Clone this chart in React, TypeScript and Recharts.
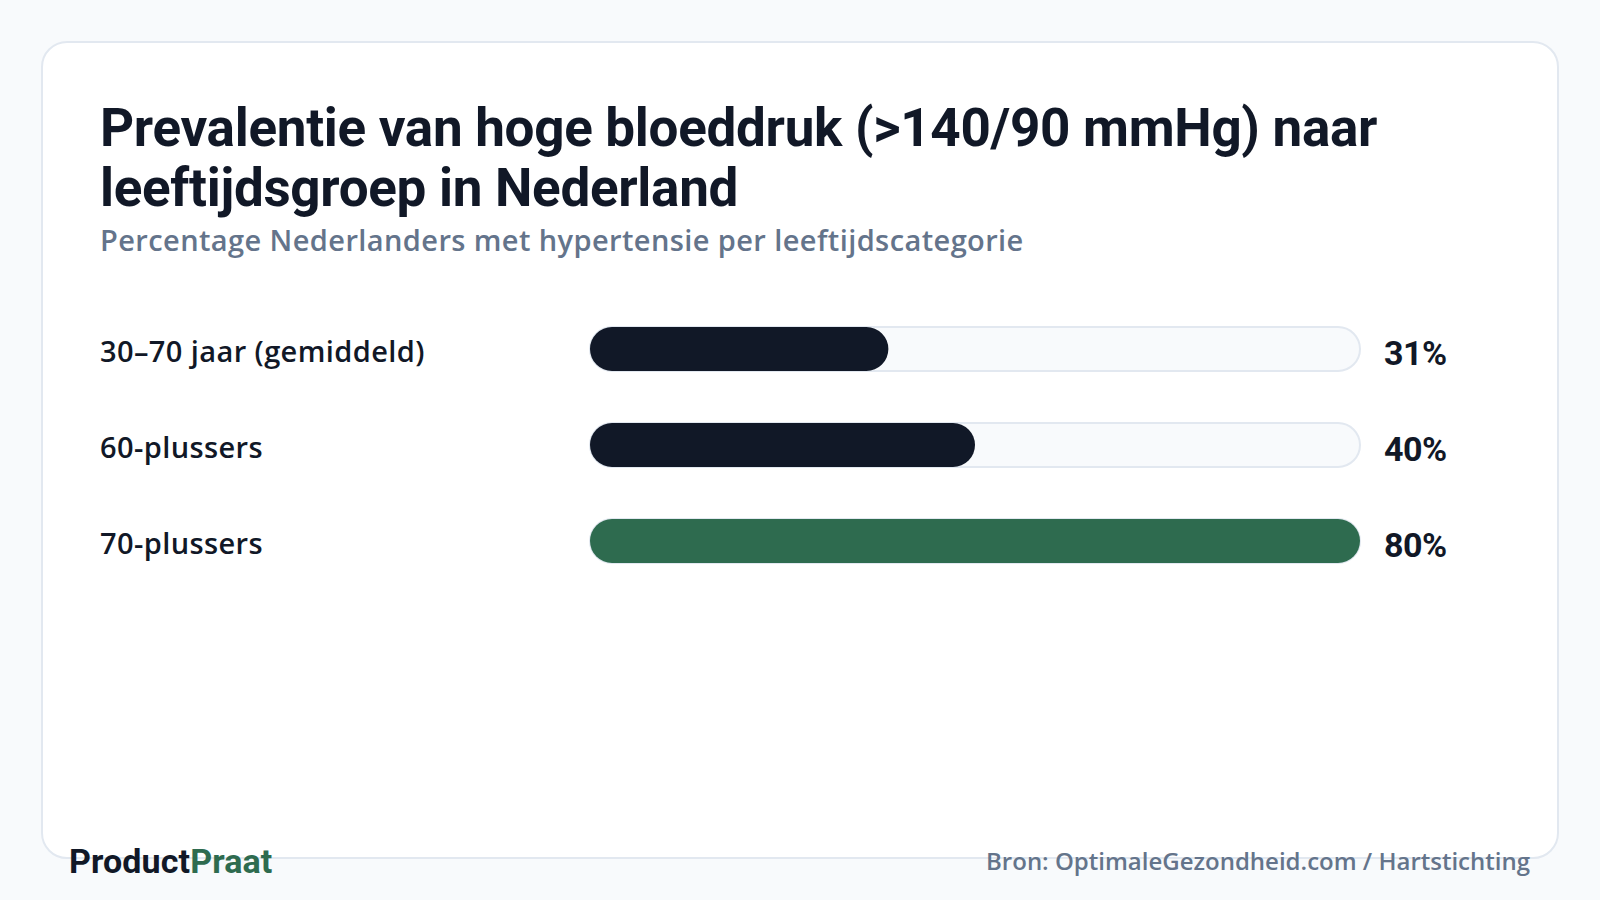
import React from 'react';
import { BarChart, Bar, XAxis, YAxis, Cell } from 'recharts';

const groups = ['30–70 jaar (gemiddeld)', '60-plussers', '70-plussers'];
const prevalence = [31, 40, 80];
const barColors = ['#111827', '#111827', '#2e6b4f'];

const data = groups.map((name, i) => ({ name, value: prevalence[i] }));

const LeftTick = (props: any) => {
  const { y, payload } = props;
  return (
    <text x={100} y={y} dy={1} dominantBaseline="central" textAnchor="start"
      fontFamily="'Open Sans', sans-serif" fontSize={29} fontWeight={600} fill="#111827" letterSpacing={0.4}>
      {payload.value}
    </text>
  );
};

const RightTick = (props: any) => {
  const { x, y, payload } = props;
  const row = data.find((d) => d.name === payload.value);
  return (
    <text x={x + 24} y={y} dy={4} dominantBaseline="central" textAnchor="start"
      fontFamily="Roboto, sans-serif" fontSize={34} fontWeight={700} fill="#111827" letterSpacing={-0.5}>
      {row ? `${row.value}%` : ''}
    </text>
  );
};

export default function App() {
  return (
    <div style={{ position: 'absolute', left: 0, top: 0, width: 1600, height: 900, background: '#f8fafc', overflow: 'hidden' }}>
      <div style={{
        position: 'absolute', left: 41, top: 41, width: 1518, height: 818,
        background: '#ffffff', border: '2px solid #e2e8f0', borderRadius: 26, boxSizing: 'border-box',
      }} />
      <div style={{
        position: 'absolute', left: 100, top: 98, width: 1420,
        fontFamily: 'Roboto, sans-serif', fontWeight: 700, fontSize: 53, lineHeight: '60px',
        color: '#111827', letterSpacing: -0.3,
      }}>
        Prevalentie van hoge bloeddruk (&gt;140/90 mmHg) naar leeftijdsgroep in Nederland
      </div>
      <div style={{
        position: 'absolute', left: 100, top: 222, fontFamily: "'Open Sans', sans-serif",
        fontWeight: 600, fontSize: 29, lineHeight: '36px', color: '#64748b', letterSpacing: 0.4,
      }}>
        Percentage Nederlanders met hypertensie per leeftijdscategorie
      </div>
      <div style={{ position: 'absolute', left: 0, top: 0 }}>
        <BarChart width={1600} height={900} data={data} layout="vertical"
          margin={{ top: 301, bottom: 311, left: 0, right: 0 }}>
          <XAxis type="number" domain={[0, 80]} hide />
          <YAxis yAxisId="left" type="category" dataKey="name" width={590}
            axisLine={false} tickLine={false} tick={LeftTick} />
          <YAxis yAxisId="right" orientation="right" type="category" dataKey="name" width={240}
            axisLine={false} tickLine={false} tick={(p: any) => <RightTick {...p} x={p.x - 8} />} />
          <Bar yAxisId="left" dataKey="value" barSize={44} radius={22} isAnimationActive={false}
            background={{ fill: '#f8fafc', stroke: '#e2e8f0', strokeWidth: 2, radius: 22 }}>
            {data.map((d, i) => (
              <Cell key={d.name} fill={barColors[i]} />
            ))}
          </Bar>
        </BarChart>
      </div>
      <div style={{
        position: 'absolute', left: 69, top: 841, fontFamily: 'Roboto, sans-serif', fontWeight: 700,
        fontSize: 34, lineHeight: '40px', color: '#111827', letterSpacing: 0.1,
      }}>
        Product<span style={{ color: '#2e6b4f' }}>Praat</span>
      </div>
      <div style={{
        position: 'absolute', right: 70, top: 845, fontFamily: "'Open Sans', sans-serif", fontWeight: 600,
        fontSize: 24, lineHeight: '32px', color: '#64748b',
      }}>
        Bron: OptimaleGezondheid.com / Hartstichting
      </div>
    </div>
  );
}
